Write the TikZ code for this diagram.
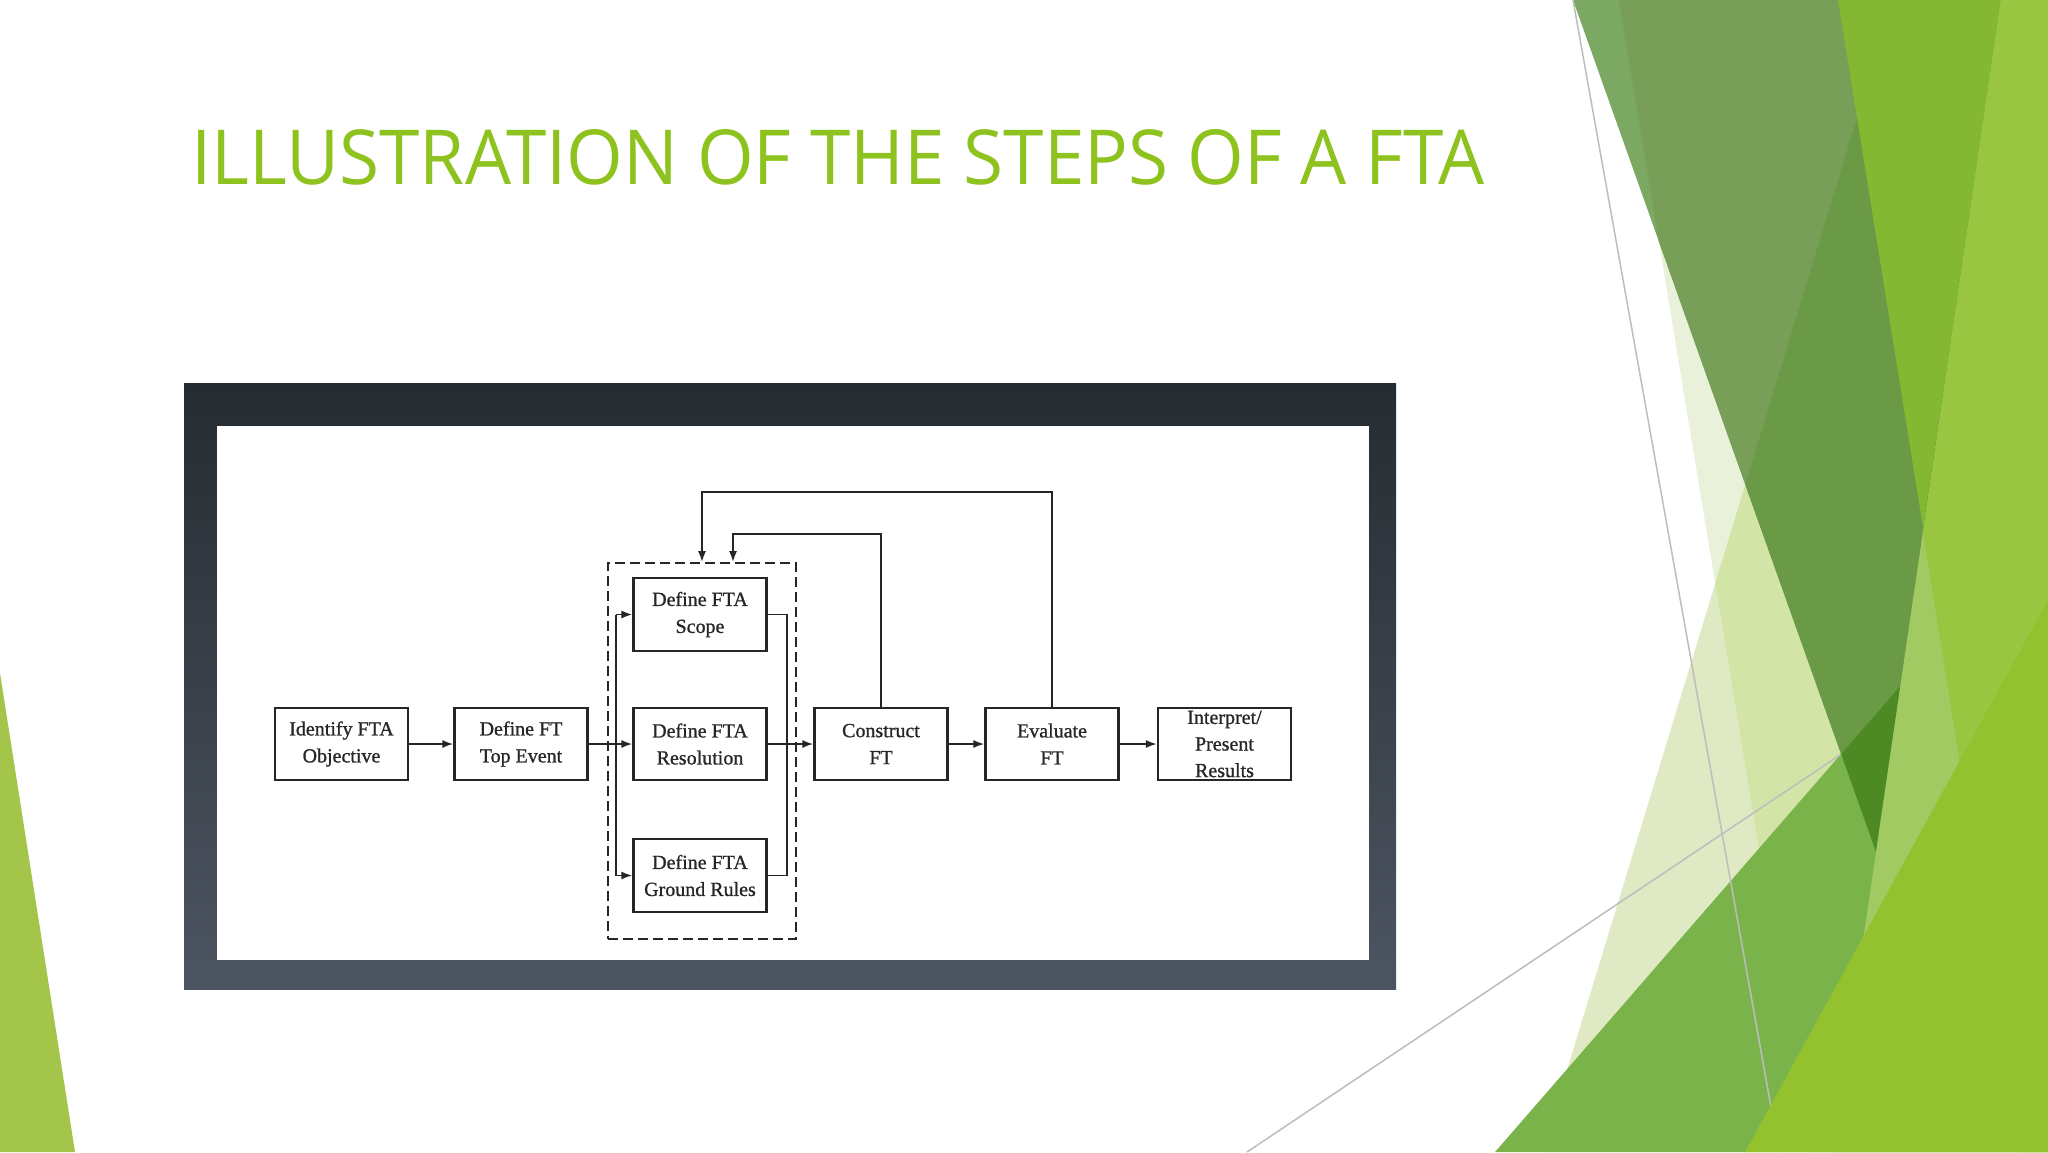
\documentclass[tikz,border=0pt]{standalone}
\usepackage{fontspec}
\setmainfont{Liberation Serif}
\newfontfamily\diafont{Liberation Serif}[FakeBold=0.9]
\newfontfamily\titlefont{Open Sans}
\usetikzlibrary{arrows.meta}
\definecolor{ttl}{HTML}{8EC31F}
\definecolor{frtop}{HTML}{252C31}
\definecolor{frbot}{HTML}{4D5562}
\definecolor{cP}{HTML}{E9F1DA}
\definecolor{cQ}{HTML}{DFEAC5}
\definecolor{cPQ}{HTML}{D2E4A6}
\definecolor{cM}{HTML}{7BA862}
\definecolor{cMP}{HTML}{779F57}
\definecolor{cMQ}{HTML}{6A9A45}
\definecolor{cG}{HTML}{7AB34A}
\definecolor{cGM}{HTML}{4E8A24}
\definecolor{cB}{HTML}{84B832}
\definecolor{cY}{HTML}{A2CA62}
\definecolor{cYB}{HTML}{98C640}
\definecolor{cZ}{HTML}{93C22E}
\definecolor{cL}{HTML}{A3C64A}
\definecolor{gline}{HTML}{BDBDBD}
\tikzset{
  fbox/.style={draw=black!85, line width=1.1pt, fill=white, minimum width=66.5pt,
    minimum height=36pt, inner sep=0pt, align=center,
    font=\diafont\fontsize{10}{13.5}\selectfont, text=black!85},
  ftxt/.style={inner sep=0pt, align=center, font=\diafont\fontsize{10}{13.3}\selectfont, text=black!85},
  conn/.style={line width=0.9pt, draw=black!85},
  arr/.style={conn, -{Latex[length=5.5pt,width=4pt]}},
  grpbox/.style={draw=black!85, line width=0.9pt, dash pattern=on 5pt off 2.5pt,
    minimum width=94pt, minimum height=188pt, inner sep=0pt},
}
\begin{document}
\begin{tikzpicture}[x=0.5pt,y=-0.5pt]
\useasboundingbox (0,0) rectangle (2048,1152);
\fill[white] (0,0) rectangle (2048,1152);

% ---- decorative background shapes (right side) ----
\def\polP{(1619,0) -- (2048,0) -- (2048,1152) -- (1809,1152) -- cycle}
\def\polQ{(1893,0) -- (2048,0) -- (2048,1152) -- (1542,1152) -- cycle}
\def\polM{(1573,0) -- (2001,0) -- (1876,852) -- cycle}
\def\polG{(1495,1152) -- (2048,516) -- (2048,1152) -- cycle}
\def\polY{(2001,0) -- (2048,0) -- (2048,1152) -- (1832,1152) -- cycle}
\def\polR{(1838,0) -- (2048,0) -- (2048,1152) -- (2022,1152) -- cycle}
\fill[cP] \polP;
\fill[cQ] \polQ;
\begin{scope}\clip \polP; \fill[cPQ] \polQ; \end{scope}
\fill[cM] \polM;
\begin{scope}\clip \polM; \fill[cMP] \polP; \fill[cMQ] \polQ; \end{scope}
\fill[cG] \polG;
\begin{scope}\clip \polM; \fill[cGM] \polG; \end{scope}
\draw[gline, line width=0.75pt] (1573,0) -- (1779,1152);
\draw[gline, line width=0.75pt] (1247,1152) -- (1840,755);
\fill[cB] (1838,0) -- (2001,0) -- (1923,527) -- cycle;
\fill[cY] \polY;
\begin{scope}\clip \polY; \fill[cYB] \polR; \end{scope}
\fill[cZ] (1745,1152) -- (2048,600) -- (2048,1152) -- cycle;
\fill[cL] (0,673) -- (75,1152) -- (0,1152) -- cycle;

% ---- title ----
\node[anchor=base west, inner sep=0pt, text=ttl] (title) at (191,184)
  {\resizebox{646.5pt}{27.5pt}{\titlefont ILLUSTRATION OF THE STEPS OF A FTA}};

% ---- picture frame ----
\shade[top color=frtop, bottom color=frbot] (184,383) rectangle (1396,989);
\fill[white] (217,426) rectangle (1369,960);

% ---- diagram ----
\node[grpbox] (grp) at (702,751) {};
\node[fbox] (idobj)  at (341.5,744) {Identify FTA\\Objective};
\node[fbox] (topev)  at (521,744)   {Define FT\\Top Event};
\node[fbox, minimum height=36.5pt] (scope)  at (700,614.5) {Define FTA\\Scope};
\node[fbox] (resol)  at (700,744)   {Define FTA\\Resolution};
\node[fbox, minimum height=36.5pt] (ground) at (700,875.5) {Define FTA\\Ground Rules};
\node[fbox] (constr) at (881,744)   {Construct\\FT};
\node[fbox] (evalft) at (1052,744)  {Evaluate\\FT};
\node[fbox] (interp) at (1224.5,744) {};
\node[ftxt] (interptxt) at (interp.center) {Interpret/\\Present\\Results};

\coordinate (lbus) at (616,744);
\coordinate (rbus) at (787,744);
\coordinate (fb1) at (733,534);
\coordinate (fb2) at (702,492);

\draw[arr] (idobj) -- (topev);
\draw[arr] (topev.east) -- (resol.west);
\draw[conn] (lbus |- scope.west) -- (lbus |- ground.west);
\draw[arr] (lbus |- scope.west) -- (scope.west);
\draw[arr] (lbus |- ground.west) -- (ground.west);
\draw[conn] (scope.east) -- (rbus |- scope.east) -- (rbus |- ground.east) -- (ground.east);
\draw[arr] (resol.east) -- (constr.west);
\draw[arr] (constr) -- (evalft);
\draw[arr] (evalft) -- (interp);
\draw[arr] (constr.north) |- (fb1) -- (fb1 |- grp.north);
\draw[arr] (evalft.north) |- (fb2) -- (fb2 |- grp.north);
\end{tikzpicture}
\end{document}
